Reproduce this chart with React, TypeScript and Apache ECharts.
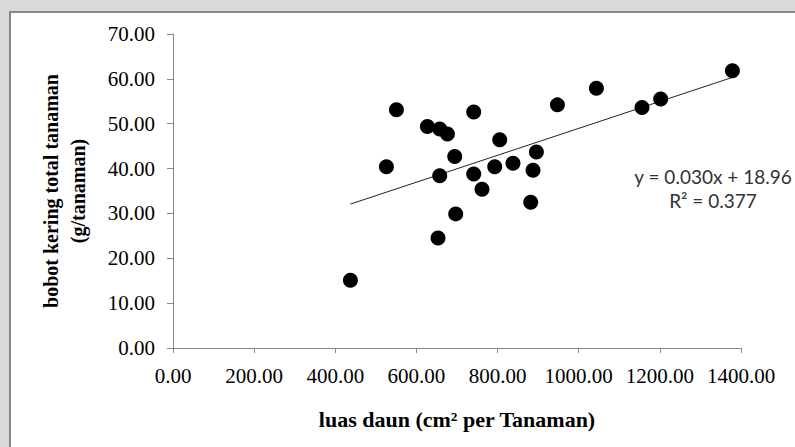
import React, { useEffect, useRef } from "react";
import * as echarts from "echarts";

const xTicks = [0, 200, 400, 600, 800, 1000, 1200, 1400];
const yTicks = [0, 10, 20, 30, 40, 50, 60, 70];
const leafArea = [
  1378.8, 1043.6, 1202, 1156, 947.5, 550.7, 741.2, 627, 657.4, 676.4, 805.3, 895.7,
  694.4, 526, 793, 838, 657.4, 741.2, 887.4, 761.6, 881.7, 696.8, 653.2, 437.3,
];
const dryWeight = [
  61.8, 57.9, 55.5, 53.6, 54.2, 53.1, 52.6, 49.4, 48.8, 47.7, 46.4, 43.7,
  42.7, 40.4, 40.4, 41.2, 38.4, 38.8, 39.6, 35.4, 32.5, 29.9, 24.5, 15.1,
];
const slope = 0.03;
const intercept = 18.96;
const equationText = "y = 0.030x + 18.96";
const r2Text = "R² = 0.377";
const xTitle = "luas daun (cm² per Tanaman)";
const yTitle = "bobot kering total tanaman\n(g/tanaman)";

export default function App() {
  const ref = useRef<HTMLDivElement>(null);
  useEffect(() => {
    document.body.style.margin = "0";
    const chart = echarts.init(ref.current!, null, { renderer: "svg" });
    const points = leafArea.map((x, i) => [x, dryWeight[i]]);
    const xMin = Math.min(...leafArea);
    const xMax = Math.max(...leafArea);
    const trend = [
      [xMin, slope * xMin + intercept],
      [xMax, slope * xMax + intercept],
    ];
    const serif = "'Liberation Serif', 'Times New Roman', serif";
    chart.setOption({
      animation: false,
      backgroundColor: "#d9d9d9",
      graphic: [
        {
          type: "rect",
          z: -10,
          silent: true,
          shape: { x: 10, y: 12, width: 800, height: 450 },
          style: { fill: "#ffffff", stroke: "#878787", lineWidth: 2 },
        },
        {
          type: "text",
          x: 713,
          y: 164,
          z: 10,
          style: {
            text: equationText + "\n" + r2Text,
            textAlign: "center",
            textVerticalAlign: "top",
            font: "19px Lato, 'Open Sans', sans-serif",
            lineHeight: 24,
            fill: "#333333",
          },
        },
      ],
      grid: { left: 173, right: 54, top: 34, bottom: 99, containLabel: false },
      xAxis: {
        type: "value",
        min: xTicks[0],
        max: xTicks[xTicks.length - 1],
        interval: 200,
        splitLine: { show: false },
        axisLine: { show: true, onZero: false, lineStyle: { color: "#878787", width: 1 } },
        axisTick: { show: true, length: 5, lineStyle: { color: "#878787" } },
        axisLabel: {
          margin: 17,
          fontFamily: serif,
          fontSize: 21,
          color: "#000",
          formatter: (v: number) => v.toFixed(2),
        },
        name: xTitle,
        nameLocation: "middle",
        nameGap: 60,
        nameTextStyle: { fontFamily: serif, fontSize: 22, fontWeight: "bold", color: "#000" },
      },
      yAxis: {
        type: "value",
        min: yTicks[0],
        max: yTicks[yTicks.length - 1],
        interval: 10,
        splitLine: { show: false },
        axisLine: { show: true, lineStyle: { color: "#878787", width: 1 } },
        axisTick: { show: true, length: 6, lineStyle: { color: "#878787" } },
        axisLabel: {
          margin: 18,
          fontFamily: serif,
          fontSize: 21,
          color: "#000",
          formatter: (v: number) => v.toFixed(2),
        },
        name: yTitle,
        nameLocation: "middle",
        nameRotate: 90,
        nameGap: 82,
        nameTextStyle: {
          fontFamily: serif,
          fontSize: 20,
          fontWeight: "bold",
          color: "#000",
          lineHeight: 27,
          align: "center",
        },
      },
      series: [
        {
          type: "line",
          data: trend,
          symbol: "none",
          lineStyle: { color: "#222", width: 1 },
          z: 1,
        },
        {
          type: "scatter",
          data: points,
          symbolSize: 15,
          itemStyle: { color: "#000", opacity: 1 },
          z: 2,
        },
      ],
    });
    return () => chart.dispose();
  }, []);
  return <div ref={ref} style={{ width: 795, height: 447 }} />;
}
